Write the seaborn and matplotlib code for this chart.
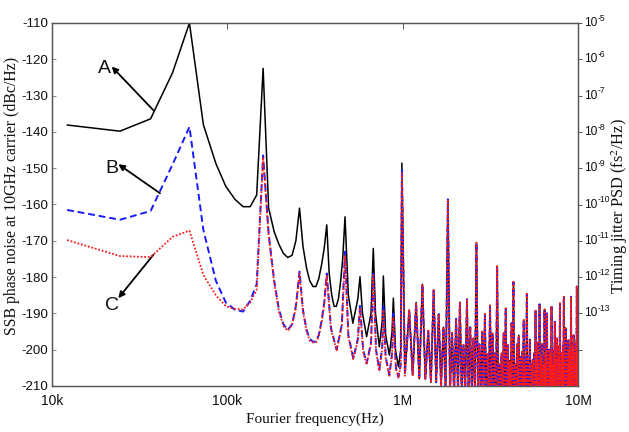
import numpy as np
import pandas as pd
import matplotlib
matplotlib.use("Agg")
import matplotlib.pyplot as plt
from matplotlib import font_manager
from matplotlib.ticker import NullLocator, FixedLocator, NullFormatter, FixedFormatter
from matplotlib.transforms import offset_copy
import seaborn as sns

# ---------------- data (frequency in kHz, SSB phase noise in dBc/Hz) ----------------
# A: solid curve, resolved part up to 1 MHz
a_khz = [12.2, 24.4, 36.5, 48.7, 60.8, 73, 86, 98, 110.6, 123, 135, 147, 160,
         172, 185, 197, 209, 221, 234, 246, 258, 270, 283, 295, 308, 320, 332,
         345, 357, 369, 381, 394, 406, 418, 430, 443, 455, 469, 490, 520, 555,
         571, 590, 623, 660, 680, 700, 736, 765, 776, 800, 840, 870, 885, 910,
         946, 975, 990, 1030]
a_db = [-138.1, -139.8, -136.4, -123.7, -110.0, -138.0, -148.7, -155.0, -158.6,
        -160.6, -160.6, -157.4, -122.5, -161.0, -167.5, -171.0, -173.5, -174.6,
        -174.0, -170.0, -161.0, -171.5, -177.5, -181.0, -182.6, -182.6, -180.5,
        -176.5, -172.0, -165.6, -179.0, -185.0, -188.0, -188.1, -186.0, -181.0,
        -175.0, -163.4, -185.0, -192.7, -186.0, -179.9, -190.0, -196.4, -190.0,
        -172.1, -190.0, -199.2, -192.0, -179.7, -196.0, -201.5, -195.0, -185.8,
        -200.0, -204.7, -200.0, -148.6, -206.5]

# B: dashed curve
b_khz = [12.2, 24.4, 36.5, 48.7, 60.8, 73, 86, 98, 110.6, 123, 135, 147, 160,
         172, 185, 197, 209, 221, 234, 246, 258, 270, 283, 295, 308, 320, 332,
         345, 357, 369, 390, 420, 450, 469, 490, 523, 555, 571, 595, 623, 660,
         680, 705, 736, 765, 776, 800, 840, 870, 885, 915, 946, 975, 990, 1030]
b_db = [-161.5, -164.2, -161.8, -149.0, -138.6, -167.0, -181.0, -187.0, -189.0,
        -189.5, -186.5, -182.0, -146.5, -168.0, -181.0, -189.0, -193.0, -194.6,
        -193.0, -188.0, -178.5, -189.0, -194.5, -197.0, -197.8, -197.8, -196.0,
        -192.0, -187.0, -179.0, -194.0, -200.0, -193.0, -173.0, -196.0, -202.4,
        -197.0, -187.7, -200.0, -203.8, -198.0, -178.5, -200.0, -205.6, -199.0,
        -188.0, -202.0, -207.0, -201.0, -190.0, -205.0, -207.5, -204.0, -150.5,
        -207.0]

# C: dotted curve
c_khz = [12.2, 24.4, 36.5, 48.7, 60.8, 73, 86, 98, 110.6, 123, 135, 147, 160,
         172, 185, 197, 209, 221, 234, 246, 258, 270, 283, 295, 308, 320, 332,
         345, 357, 369, 390, 420, 450, 469, 490, 523, 555, 571, 595, 623, 660,
         680, 705, 736, 765, 776, 800, 840, 870, 885, 915, 946, 975, 990, 1030]
c_db = [-169.8, -174.2, -174.5, -168.9, -167.2, -179.4, -185.0, -188.0, -188.8,
        -188.9, -187.0, -183.5, -147.0, -168.5, -181.5, -189.5, -193.5, -194.8,
        -193.2, -188.5, -179.0, -189.5, -195.0, -197.5, -198.0, -198.0, -196.5,
        -192.5, -187.5, -179.5, -194.5, -200.2, -193.5, -174.0, -196.5, -202.6,
        -197.5, -188.5, -200.5, -204.0, -198.5, -179.5, -200.5, -205.8, -199.5,
        -189.0, -202.5, -207.2, -201.5, -191.0, -205.2, -207.7, -204.5, -151.4,
        -207.2]

# Harmonic spikes above 1 MHz, common to the three curves
hf_khz = [1090, 1193, 1296, 1399, 1502, 1605, 1708, 1811, 1914, 2017,
          2120, 2223, 2326, 2429, 2532, 2635, 2738, 2841, 2944, 3047,
          3150, 3253, 3356, 3459, 3562, 3665, 3768, 3871, 3974, 4077,
          4180, 4283, 4386, 4489, 4592, 4695, 4798, 4901, 5004, 5107,
          5210, 5313, 5416, 5519, 5622, 5725, 5828, 5931, 6034, 6137,
          6240, 6343, 6446, 6549, 6652, 6755, 6858, 6961, 7064, 7167,
          7270, 7373, 7476, 7579, 7682, 7785, 7888, 7991, 8094, 8197,
          8300, 8403, 8506, 8609, 8712, 8815, 8918, 9021, 9124, 9227,
          9330, 9433, 9536, 9639, 9742, 9845, 9948]
hf_peak_db = [-189.1, -187.0, -182.0, -194.8, -183.6, -190.2, -193.8, -158.6, -195.3, -191.5,
              -186.9, -198.7, -186.1, -193.8, -196.9, -170.5, -198.5, -195.0, -190.2, -201.2,
              -187.8, -195.5, -201.0, -177.0, -204.0, -201.0, -195.5, -188.6, -198.7, -203.0,
              -192.7, -181.3, -204.0, -198.4, -196.0, -202.0, -200.5, -191.8, -204.0, -184.6,
              -203.0, -197.2, -204.0, -202.8, -201.0, -189.3, -198.0, -203.0, -187.5, -202.0,
              -198.4, -204.0, -188.9, -201.0, -190.0, -203.0, -200.0, -202.0, -188.2, -204.0,
              -200.0, -192.3, -203.0, -196.9, -202.0, -199.0, -187.2, -204.0, -201.0, -199.0,
              -185.4, -203.0, -194.1, -201.0, -204.0, -197.3, -200.0, -203.0, -185.4, -202.0,
              -199.0, -196.0, -203.0, -200.0, -198.0, -182.6, -201.0]
# troughs after the first spikes; further out they drop below the plotted range
hf_trough_db = [-207, -208, -208, -209, -209, -210]
hf_floor_db = -212

x_ticks_hz = [1e4, 1e5, 1e6, 1e7]
x_tick_labels = ["10k", "100k", "1M", "10M"]
y_ticks = [-110, -120, -130, -140, -150, -160, -170, -180, -190, -200, -210]
psd_ticks = [1e-5, 1e-6, 1e-7, 1e-8, 1e-9, 1e-10, 1e-11, 1e-12, 1e-13, 1e-14]
psd_exponents = ["-5", "-6", "-7", "-8", "-9", "-10", "-11", "-12", "-13", None]


def spike_train(khz, peak, troughs, floor):
    """Spike tops joined through a trough placed between neighbouring spikes."""
    f, v = [], []
    for i, (fk, pk) in enumerate(zip(khz, peak)):
        f.append(fk)
        v.append(pk)
        nxt = khz[i + 1] if i + 1 < len(khz) else fk * 1.02
        f.append(np.sqrt(fk * nxt))
        v.append(troughs[i] if i < len(troughs) else floor)
    return f, v


hf_f, hf_v = spike_train(hf_khz, hf_peak_db, hf_trough_db, hf_floor_db)


def series(khz, db, name):
    return pd.DataFrame({"freq": np.array(list(khz) + hf_f) * 1e3,
                         "noise": list(db) + hf_v, "curve": name})


df_a = series(a_khz, a_db, "A")
df_b = series(b_khz, b_db, "B")
df_c = series(c_khz, c_db, "C")

# ---------------- style ----------------
sns.set_style("white")
installed = {f.name for f in font_manager.fontManager.ttflist}
sans = "Liberation Sans" if "Liberation Sans" in installed else "DejaVu Sans"
serif = "Liberation Serif" if "Liberation Serif" in installed else "DejaVu Serif"
plt.rcParams["font.family"] = [sans, "DejaVu Sans"]

W, H = 629, 432
fig = plt.figure(figsize=(W / 100, H / 100), dpi=100)
ax = fig.add_axes([52 / W, 46 / H, 526 / W, 363 / H])

sns.lineplot(data=df_a, x="freq", y="noise", ax=ax, color="black", lw=1.1,
             estimator=None, sort=False, zorder=2)
sns.lineplot(data=df_b, x="freq", y="noise", ax=ax, color="#1a1aff", lw=1.4,
             linestyle=(0, (3.5, 2.0)), estimator=None, sort=False, zorder=3)
sns.lineplot(data=df_c, x="freq", y="noise", ax=ax, color="#ff1a1a", lw=1.3,
             linestyle=(0, (1, 1.0)), estimator=None, sort=False, zorder=4)

ax.set_xscale("log")
ax.set_xlim(1e4, 1e7)
ax.set_ylim(-210, -110)
ax.xaxis.set_major_locator(FixedLocator(x_ticks_hz))
ax.xaxis.set_major_formatter(FixedFormatter(x_tick_labels))
ax.xaxis.set_minor_locator(NullLocator())
ax.set_yticks(y_ticks)
ax.set_yticklabels([str(t) for t in y_ticks])
ax.set_xlabel("")
ax.set_ylabel("")
ax.tick_params(axis="x", which="major", direction="in", length=4, width=0.7,
               color="#555555", labelsize=10, pad=6, top=True, labelcolor="#111111")
ax.tick_params(axis="y", which="major", direction="in", length=3, width=0.6,
               color="#777777", labelsize=9.6, pad=3, labelcolor="#111111")
for s in ax.spines.values():
    s.set_color("#555555")
    s.set_linewidth(0.9)

# right-hand timing-jitter axis (log scale, 10 dB per decade)
ax2 = ax.twinx()
ax2.set_yscale("log")
ax2.set_ylim(1e-15, 1e-5)
ax2.yaxis.set_major_locator(FixedLocator(psd_ticks))
ax2.yaxis.set_major_formatter(NullFormatter())
ax2.yaxis.set_minor_locator(NullLocator())
ax2.tick_params(axis="y", which="major", direction="out", length=3, width=0.7,
                color="#555555")
for s in ax2.spines.values():
    s.set_color("#555555")
    s.set_linewidth(0.9)

# compact power-of-ten labels: base and raised exponent
ytrans = ax2.get_yaxis_transform()
for val, exp in zip(psd_ticks, psd_exponents):
    if exp is None:
        continue
    base_tr = offset_copy(ytrans, fig=fig, x=4.5, y=0, units="points")
    ax2.text(1.0, val, "10", transform=base_tr, ha="left", va="center",
             fontsize=8.6, color="#111111", clip_on=False)
    exp_tr = offset_copy(ytrans, fig=fig, x=14.0, y=3.5, units="points")
    ax2.text(1.0, val, exp, transform=exp_tr, ha="left", va="center",
             fontsize=6.2, color="#111111", clip_on=False)

# curve labels with arrows
arrow_kw = dict(arrowstyle="-|>", color="black", lw=1.3, mutation_scale=9,
                shrinkA=0, shrinkB=0)
ax.annotate("", xy=(21.9e3, -122.0), xytext=(37.8e3, -134.0), arrowprops=arrow_kw)
ax.annotate("", xy=(23.9e3, -148.9), xytext=(41.3e3, -156.9), arrowprops=arrow_kw)
ax.annotate("", xy=(23.9e3, -185.8), xytext=(37.8e3, -173.9), arrowprops=arrow_kw)
for txt, fx, fy in [("A", 20.0e3, -122.6), ("B", 22.0e3, -150.0), ("C", 22.0e3, -187.7)]:
    ax.text(fx, fy, txt, fontsize=14, ha="center", va="center", color="#111111")

fig.text(12.5 / W, 1 - 196 / H, "SSB phase noise at 10GHz carrier (dBc/Hz)",
         rotation=90, ha="center", va="center", fontsize=11.3,
         family=[serif, "DejaVu Serif"], color="#111111")
fig.text(619.5 / W, 1 - 206 / H, "Timing jitter PSD (fs$^2$/Hz)",
         rotation=90, ha="center", va="center", fontsize=11.8,
         family=[serif, "DejaVu Serif"], color="#111111", math_fontfamily="stix")
fig.text(315 / W, 1 - 419 / H, "Fourier frequency(Hz)", ha="center", va="center",
         fontsize=11, family=[serif, "DejaVu Serif"], color="#111111")

fig.savefig("out.png", dpi=100)
